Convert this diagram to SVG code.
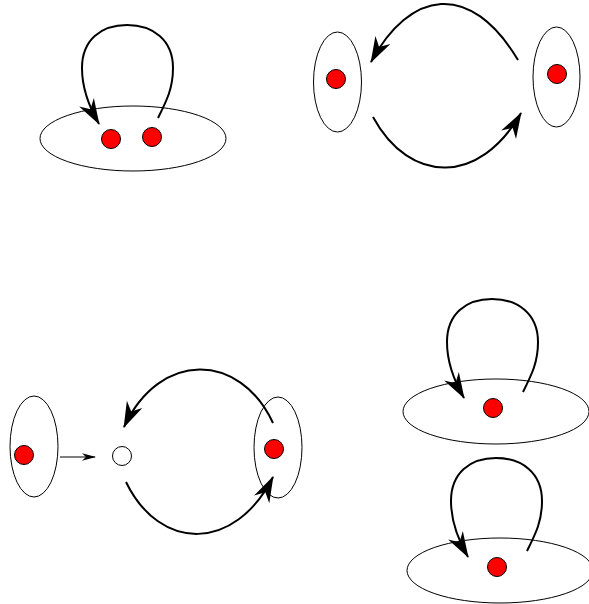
<svg xmlns="http://www.w3.org/2000/svg" width="589" height="604" viewBox="0 0 589 604">
<style>
.set{fill:none;stroke:#000;stroke-width:1}
.dot{fill:#ff0000;stroke:#000;stroke-width:1}
.empty{fill:#fff;stroke:#000;stroke-width:1}
.edge{fill:none;stroke:#000;stroke-width:2}
.thin{fill:none;stroke:#000;stroke-width:1}
</style>
<defs>
<marker id="ah" markerUnits="userSpaceOnUse" viewBox="-28 -10 30 20" refX="0" refY="0" markerWidth="30" markerHeight="20" orient="auto" overflow="visible">
<path d="M1,0 L-25,-8.5 L-17,0 L-25,8.5 Z" fill="#000"/>
</marker>
<marker id="ahs" markerUnits="userSpaceOnUse" viewBox="-16 -6 18 12" refX="0" refY="0" markerWidth="18" markerHeight="12" orient="auto" overflow="visible">
<path d="M1,0 L-13,-3.8 L-9,0 L-13,3.8 Z" fill="#000"/>
</marker>
</defs>
<g id="n1">
<ellipse class="set" cx="133" cy="138.5" rx="93" ry="32.5"/>
<circle class="dot" cx="111" cy="139" r="9.5"/>
<circle class="dot" cx="152" cy="137" r="9.5"/>
</g>
<g id="n2a">
<ellipse class="set" cx="337.5" cy="82" rx="24" ry="50"/>
<circle class="dot" cx="336" cy="79" r="9.5"/>
</g>
<g id="n2b">
<ellipse class="set" cx="556.5" cy="77" rx="23.5" ry="50"/>
<circle class="dot" cx="557" cy="74" r="9.5"/>
</g>
<g id="n3a">
<ellipse class="set" cx="34" cy="446.5" rx="24" ry="50.5"/>
<circle class="dot" cx="24" cy="455" r="9.5"/>
</g>
<g id="n3b">
<circle class="empty" cx="122" cy="456" r="9.5"/>
</g>
<g id="n3c">
<ellipse class="set" cx="278" cy="447.5" rx="24" ry="50.5"/>
<circle class="dot" cx="274" cy="449" r="9.5"/>
</g>
<g id="n4">
<ellipse class="set" cx="496" cy="411.5" rx="93" ry="32.5"/>
<circle class="dot" cx="493" cy="408" r="9.5"/>
</g>
<g id="n5">
<ellipse class="set" cx="500" cy="570.5" rx="93" ry="32.5"/>
<circle class="dot" cx="497" cy="567" r="9.5"/>
</g>
<g id="connectors">
<path class="edge" marker-end="url(#ah)" d="M158,118 C167,100 173,88 173,68 C173,40 153,25 127,25 C101,25 82,40 82,68 C82,88 88,105 99,124"/>
<path class="edge" marker-end="url(#ah)" d="M518,60 C470,-20 410,-10 371,62"/>
<path class="edge" marker-end="url(#ah)" d="M373,117 C410,185 480,185 521,113"/>
<path class="thin" marker-end="url(#ahs)" d="M60,457 L95,457"/>
<path class="edge" marker-end="url(#ah)" d="M273,423 C240,352 160,350 124,427"/>
<path class="edge" marker-end="url(#ah)" d="M126,482 C160,552 235,552 273,477"/>
<path class="edge" marker-end="url(#ah)" d="M523,392 C532,374 538,362 538,342 C538,314 518,299 492,299 C466,299 447,314 447,342 C447,362 453,379 464,398"/>
<path class="edge" marker-end="url(#ah)" d="M527,551 C536,533 542,521 542,501 C542,473 522,458 496,458 C470,458 451,473 451,501 C451,521 457,538 468,557"/>
</g>
</svg>
